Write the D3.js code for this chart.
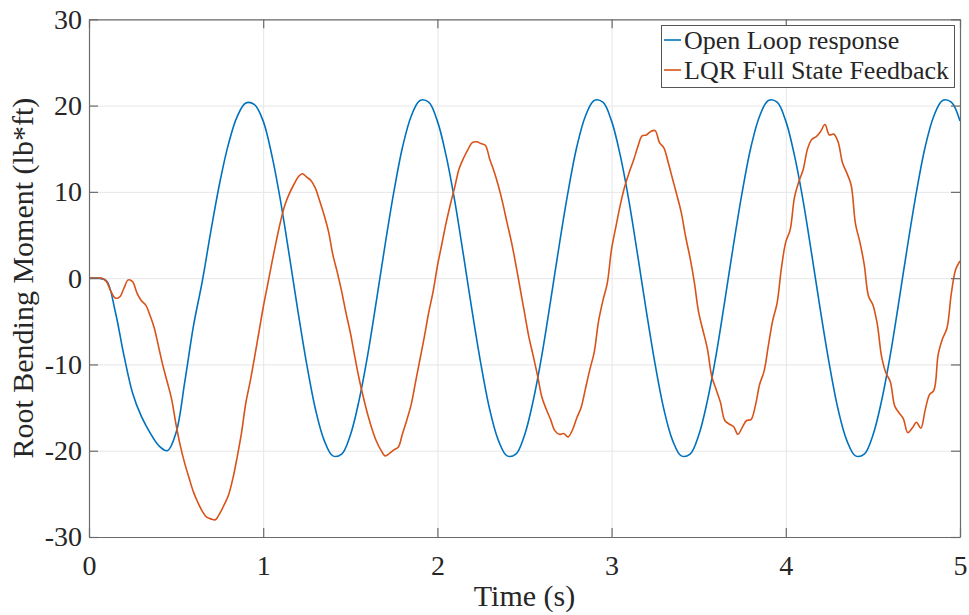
<!DOCTYPE html>
<html>
<head>
<meta charset="utf-8">
<script src="https://cdn.jsdelivr.net/npm/d3@7"></script>
<style>
    body { margin: 0; background: #fff; }
    svg text { font-family: "Liberation Serif", "Times New Roman", serif; fill: #262626; }
</style>
</head>
<body>
<div id="chart"></div>
<script>
// tick values
const xTicks = [0, 1, 2, 3, 4, 5];
const yTicks = [-30, -20, -10, 0, 10, 20, 30];

// series names
const seriesNames = ["Open Loop response", "LQR Full State Feedback"];

// open loop response, sampled every 0.05 s from 0 to 5
const openLoopStep = 0.05;
const openLoop = [
    0, 0, -0.3, -3.8, -8.9, -13.3, -16.0, -17.9, -19.4, -20.0,
    -17.9, -12.0, -5.5, -0.4, 5.5, 11.0, 15.5, 18.7, 20.3, 20.1,
    18.2, 14.2, 8.9, 2.6, -3.9, -10.0, -15.2, -18.8, -20.6, -20.4,
    -18.2, -14.2, -8.9, -2.6, 3.9, 10.0, 15.2, 18.8, 20.6, 20.4,
    18.2, 14.2, 8.9, 2.6, -3.9, -10.0, -15.2, -18.8, -20.6, -20.4,
    -18.2, -14.2, -8.9, -2.6, 3.9, 10.0, 15.2, 18.8, 20.6, 20.4,
    18.2, 14.2, 8.9, 2.6, -3.9, -10.0, -15.2, -18.8, -20.6, -20.4,
    -18.2, -14.2, -8.9, -2.6, 3.9, 10.0, 15.2, 18.8, 20.6, 20.4,
    18.2, 14.2, 8.9, 2.6, -3.9, -10.0, -15.2, -18.8, -20.6, -20.4,
    -18.2, -14.2, -8.9, -2.6, 3.9, 10.0, 15.2, 18.8, 20.6, 20.4,
    18.2
];

// LQR full state feedback, sampled every 0.025 s from 0 to 5
const lqrStep = 0.025;
const lqr = [
    0, 0, 0, 0, -0.4, -1.5, -2.3, -2.2, -1.2, -0.2,
    -0.4, -1.7, -2.6, -3.1, -4.3, -5.8, -8.0, -10.2, -12.1, -14.1,
    -17.0, -19.5, -21.5, -23.2, -24.8, -26.0, -27.0, -27.7, -27.9, -28.0,
    -27.3, -26.3, -25.2, -23.3, -20.8, -18.0, -14.5, -12.0, -9.2, -6.3,
    -3.4, -0.8, 1.8, 4.3, 6.6, 8.5, 9.8, 10.8, 11.7, 12.1,
    11.7, 11.3, 10.4, 8.9, 7.3, 5.4, 2.7, 0.7, -1.5, -4.0,
    -6.3, -9.0, -11.6, -13.8, -15.8, -17.5, -18.9, -19.9, -20.6, -20.3,
    -19.9, -19.6, -18.0, -16.4, -14.6, -12.0, -9.4, -6.8, -4.0, -1.6,
    1.4, 3.9, 6.4, 8.6, 10.6, 12.7, 13.9, 14.9, 15.7, 15.8,
    15.6, 15.4, 13.8, 12.4, 10.7, 8.7, 6.4, 4.2, 1.6, -1.2,
    -4.0, -6.8, -9.0, -11.3, -13.8, -15.2, -16.4, -17.7, -18.1, -18.0,
    -18.4, -17.6, -16.2, -15.0, -12.8, -10.6, -8.6, -5.0, -2.6, -0.6,
    3.4, 6.0, 8.5, 10.6, 12.2, 13.6, 15.2, 16.5, 16.6, 17.0,
    17.1, 15.7, 15.1, 13.4, 11.5, 9.6, 7.6, 4.8, 2.4, -0.5,
    -4.0, -6.1, -8.2, -11.4, -12.9, -14.4, -16.5, -16.9, -17.2, -18.1,
    -17.3, -16.5, -16.4, -14.8, -12.3, -10.8, -7.8, -4.9, -2.9, 1.2,
    4.2, 5.6, 9.4, 11.2, 12.6, 15.0, 16.1, 16.4, 17.0, 17.8,
    16.6, 16.7, 15.8, 13.4, 12.2, 10.8, 6.3, 4.2, 1.6, -2.1,
    -3.1, -5.3, -9.1, -11.0, -12.0, -14.8, -15.6, -16.3, -17.9, -17.4,
    -16.7, -17.4, -15.3, -13.5, -13.0, -8.8, -7.0, -5.8, -1.8, 1.0,
    2.0
];

const colors = ["#0072BD", "#D95319"];

const W = 969, H = 615;
const box = {left: 89, right: 960, top: 19.3, bottom: 537};

const svg = d3.select('#chart')
    .append('svg')
    .attr('width', W)
    .attr('height', H)
    .style('background', '#fff');

const x = d3.scaleLinear().domain([0, 5]).range([box.left, box.right]);
const y = d3.scaleLinear().domain([-30, 30]).range([box.bottom, box.top]);

// grid lines
svg.append('g')
    .attr('transform', `translate(0,${box.bottom})`)
    .call(d3.axisBottom(x).tickValues(xTicks).tickSize(-(box.bottom - box.top)).tickFormat(''))
    .call(g => g.select('.domain').remove())
    .call(g => g.selectAll('line').attr('stroke', '#e6e6e6').attr('stroke-width', 1));

svg.append('g')
    .attr('transform', `translate(${box.left},0)`)
    .call(d3.axisLeft(y).tickValues(yTicks).tickSize(-(box.right - box.left)).tickFormat(''))
    .call(g => g.select('.domain').remove())
    .call(g => g.selectAll('line').attr('stroke', '#e6e6e6').attr('stroke-width', 1));

// clip to the axes box
svg.append('clipPath')
    .attr('id', 'plotClip')
    .append('rect')
    .attr('x', box.left)
    .attr('y', box.top)
    .attr('width', box.right - box.left)
    .attr('height', box.bottom - box.top);

const openData = openLoop.map((v, i) => ({t: i * openLoopStep, v}));
const lqrData = lqr.map((v, i) => ({t: i * lqrStep, v}));

const line = d3.line()
    .x(d => x(d.t))
    .y(d => y(d.v))
    .curve(d3.curveCatmullRom.alpha(0.5));

const plot = svg.append('g').attr('clip-path', 'url(#plotClip)');

plot.append('path')
    .datum(openData)
    .attr('fill', 'none')
    .attr('stroke', colors[0])
    .attr('stroke-width', 1.6)
    .attr('d', line);

plot.append('path')
    .datum(lqrData)
    .attr('fill', 'none')
    .attr('stroke', colors[1])
    .attr('stroke-width', 1.6)
    .attr('d', line);

// axes (ticks point inward, box on)
const axisColor = '#6b6b6b';
const tickLen = 9;

const styleAxis = g => {
    g.select('.domain').attr('stroke', axisColor).attr('stroke-width', 1.2);
    g.selectAll('.tick line').attr('stroke', axisColor).attr('stroke-width', 1.2);
    g.selectAll('.tick text')
        .style('font-size', '28px')
        .attr('fill', '#262626');
};

svg.append('g')
    .attr('transform', `translate(0,${box.bottom})`)
    .call(d3.axisBottom(x).tickValues(xTicks).tickSize(-tickLen).tickSizeOuter(0).tickPadding(18).tickFormat(d3.format('d')))
    .call(styleAxis);

svg.append('g')
    .attr('transform', `translate(0,${box.top})`)
    .call(d3.axisTop(x).tickValues(xTicks).tickSize(-tickLen).tickSizeOuter(0).tickFormat(''))
    .call(styleAxis);

svg.append('g')
    .attr('transform', `translate(${box.left},0)`)
    .call(d3.axisLeft(y).tickValues(yTicks).tickSize(-tickLen).tickSizeOuter(0).tickPadding(7).tickFormat(d3.format('d')))
    .call(styleAxis)
    .call(g => g.selectAll('.tick text').text(d => d < 0 ? '-' + Math.abs(d) : d));

svg.append('g')
    .attr('transform', `translate(${box.right},0)`)
    .call(d3.axisRight(y).tickValues(yTicks).tickSize(-tickLen).tickSizeOuter(0).tickFormat(''))
    .call(styleAxis);

// axis labels
svg.append('text')
    .attr('x', (box.left + box.right) / 2)
    .attr('y', 606)
    .attr('text-anchor', 'middle')
    .style('font-size', '30px')
    .text('Time (s)');

svg.append('text')
    .attr('transform', `translate(33,${(box.top + box.bottom) / 2}) rotate(-90)`)
    .attr('text-anchor', 'middle')
    .style('font-size', '30px')
    .text('Root Bending Moment (lb*ft)');

// legend
const legend = svg.append('g');

legend.append('rect')
    .attr('x', 661.5)
    .attr('y', 25.5)
    .attr('width', 293)
    .attr('height', 62)
    .attr('fill', '#fff')
    .attr('stroke', '#555')
    .attr('stroke-width', 1);

seriesNames.forEach((name, i) => {
    const cy = 40 + i * 30;
    legend.append('line')
        .attr('x1', 664)
        .attr('x2', 681)
        .attr('y1', cy)
        .attr('y2', cy)
        .attr('stroke', colors[i])
        .attr('stroke-width', 1.6);
    legend.append('text')
        .attr('x', 684)
        .attr('y', cy + 9)
        .style('font-size', '26px')
        .attr('fill', '#000')
        .text(name);
});
</script>
</body>
</html>
